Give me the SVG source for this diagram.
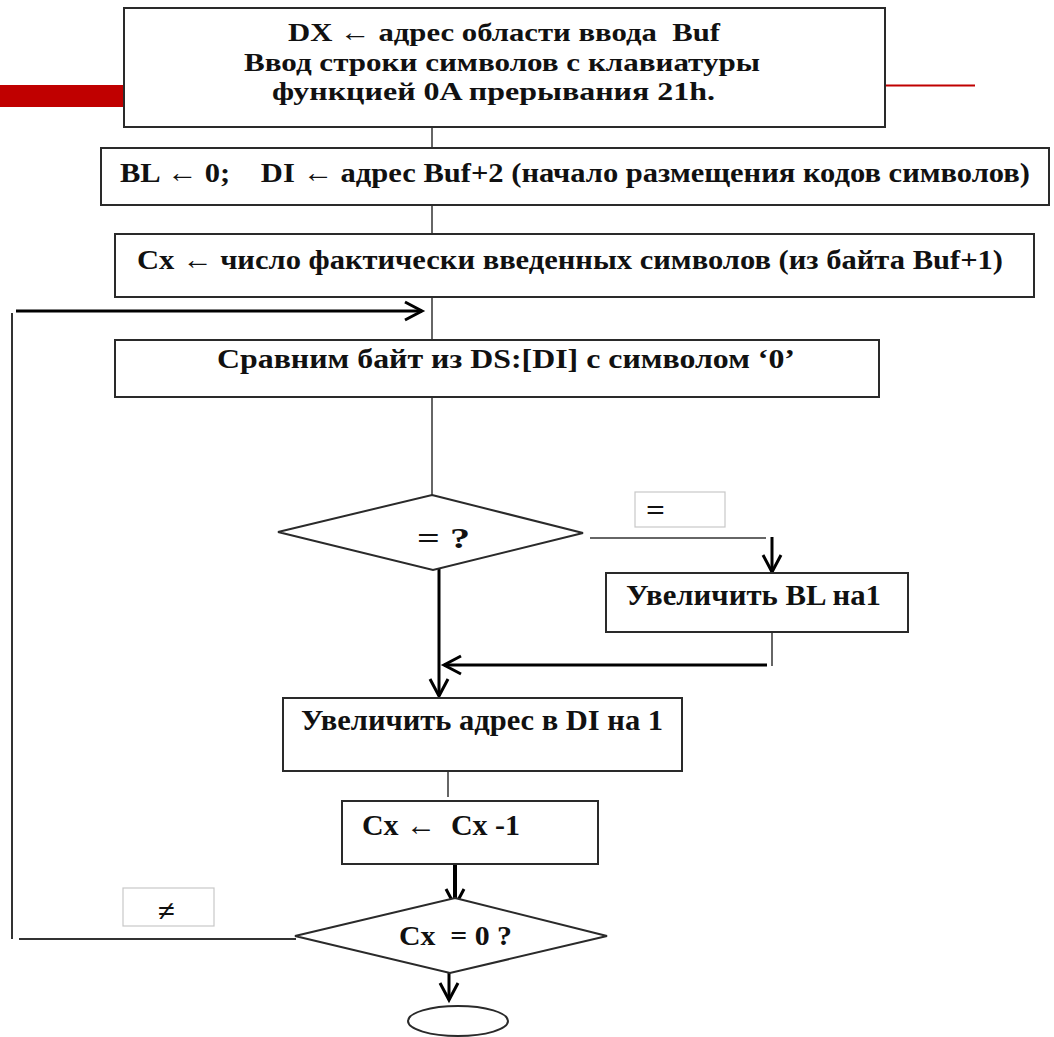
<svg xmlns="http://www.w3.org/2000/svg" width="1054" height="1037" viewBox="0 0 1054 1037">
<style>
.box{fill:#fff;stroke:#2a2a2a;stroke-width:2}
.lbl{fill:#fff;stroke:#c8c8c8;stroke-width:1.2}
.t{font-family:"Liberation Serif","Times New Roman",serif;font-weight:bold;fill:#111;white-space:pre}
.thin{stroke:#333;stroke-width:1.5;fill:none}
.thick{stroke:#000;stroke-width:3;fill:none}
</style>
<defs>
<marker id="chev" markerUnits="userSpaceOnUse" markerWidth="24" markerHeight="24" viewBox="0 0 24 24" refX="20" refY="12" orient="auto">
<path d="M3,3 L20,12 L3,21" fill="none" stroke="#000" stroke-width="3"/>
</marker>
</defs>
<rect x="0" y="85" width="124" height="22" fill="#c00000"/>
<line x1="885" y1="85.5" x2="975" y2="85.5" stroke="#c00000" stroke-width="2"/>

<g id="connectors">
<line class="thin" x1="432" y1="127" x2="432" y2="148"/>
<line class="thin" x1="432" y1="205" x2="432" y2="234"/>
<line class="thin" x1="432" y1="297" x2="432" y2="340"/>
<line class="thin" x1="432" y1="397" x2="432" y2="495"/>
<line class="thick" x1="16" y1="311" x2="422" y2="311" marker-end="url(#chev)"/>
<line x1="12" y1="313" x2="12" y2="939" stroke="#333" stroke-width="2"/>
<line x1="19" y1="939" x2="296" y2="939" stroke="#333" stroke-width="2"/>
<line class="thin" x1="590" y1="538" x2="766" y2="538"/>
<line class="thick" x1="772" y1="537" x2="772" y2="572" marker-end="url(#chev)"/>
<line class="thin" x1="772" y1="632" x2="772" y2="666"/>
<line class="thick" x1="767" y1="665" x2="444" y2="665" marker-end="url(#chev)"/>
<line class="thick" x1="439" y1="562" x2="439" y2="696" marker-end="url(#chev)"/>
<line class="thin" x1="448" y1="771" x2="448" y2="797"/>
<line x1="455" y1="864" x2="455" y2="906" stroke="#000" stroke-width="4" marker-end="url(#chev)"/>
<line class="thick" x1="449" y1="973" x2="449" y2="1000" marker-end="url(#chev)"/>
</g>

<g id="n1">
<rect class="box" x="124" y="8" width="761" height="119"/>
<text class="t" font-size="26" x="288" y="41" textLength="432" lengthAdjust="spacingAndGlyphs">DX ← адрес области ввода  Buf</text>
<text class="t" font-size="26" x="244" y="71" textLength="516" lengthAdjust="spacingAndGlyphs">Ввод строки символов с клавиатуры</text>
<text class="t" font-size="26" x="272" y="100" textLength="443" lengthAdjust="spacingAndGlyphs">функцией 0A прерывания 21h.</text>
</g>
<g id="n2">
<rect class="box" x="101" y="148" width="948" height="57"/>
<text class="t" font-size="28" x="120" y="182" textLength="910" lengthAdjust="spacingAndGlyphs">BL ← 0;    DI ← адрес Buf+2 (начало размещения кодов символов)</text>
</g>
<g id="n3">
<rect class="box" x="115" y="234" width="919" height="63"/>
<text class="t" font-size="28" x="137" y="269" textLength="866" lengthAdjust="spacingAndGlyphs">Cx ← число фактически введенных символов (из байта Buf+1)</text>
</g>
<g id="n4">
<rect class="box" x="115" y="340" width="764" height="57"/>
<text class="t" font-size="28" x="217" y="368" textLength="578" lengthAdjust="spacingAndGlyphs">Сравним байт из DS:[DI] с символом ‘0’</text>
</g>
<g id="n5">
<polygon class="box" points="432,495 583,533 433,570 278,532" stroke-width="1.5"/>
<text class="t" font-size="30" x="417" y="548" textLength="53" lengthAdjust="spacingAndGlyphs">= ?</text>
</g>
<g id="lblEq">
<rect class="lbl" x="635" y="492" width="90" height="35"/>
<text class="t" font-size="30" x="646" y="520" textLength="19" lengthAdjust="spacingAndGlyphs">=</text>
</g>
<g id="n6">
<rect class="box" x="606" y="573" width="302" height="59"/>
<text class="t" font-size="30" x="626" y="605" textLength="255" lengthAdjust="spacingAndGlyphs">Увеличить BL на1</text>
</g>
<g id="n7">
<rect class="box" x="283" y="698" width="399" height="73"/>
<text class="t" font-size="30" x="301" y="730" textLength="362" lengthAdjust="spacingAndGlyphs">Увеличить адрес в DI на 1</text>
</g>
<g id="n8">
<rect class="box" x="342" y="801" width="256" height="63"/>
<text class="t" font-size="30" x="362" y="835" textLength="158" lengthAdjust="spacingAndGlyphs">Cx ←  Cx -1</text>
</g>
<g id="n9">
<polygon class="box" points="455,898 607,936 450,973 295,936" stroke-width="1.5"/>
<text class="t" font-size="28" x="399" y="945" textLength="113" lengthAdjust="spacingAndGlyphs">Cx  = 0 ?</text>
</g>
<g id="lblNe">
<rect class="lbl" x="123" y="888" width="91" height="38"/>
<text class="t" font-size="30" x="158" y="921" textLength="17" lengthAdjust="spacingAndGlyphs">≠</text>
</g>
<g id="n10">
<ellipse class="box" cx="458" cy="1021" rx="50" ry="15" stroke-width="1.5"/>
</g>
</svg>
